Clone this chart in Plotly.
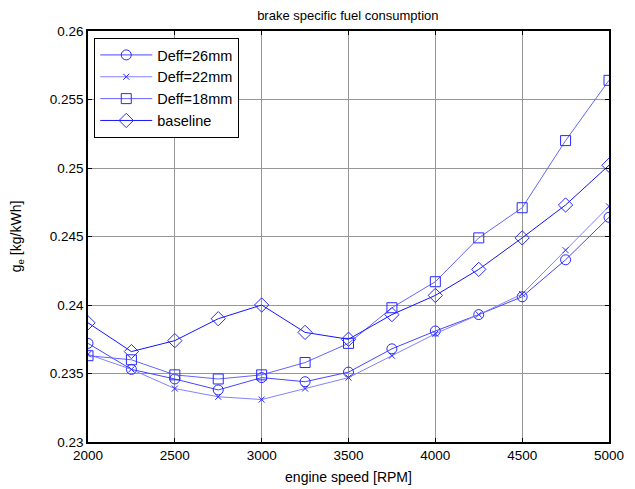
import plotly.graph_objects as go

rpm = [2000, 2250, 2500, 2750, 3000, 3250, 3500, 3750, 4000, 4250, 4500, 4750, 5000]
deff26 = [0.2372, 0.2353, 0.2346, 0.2338, 0.2347, 0.2344, 0.2351, 0.2368, 0.2381, 0.2393, 0.2406, 0.2433, 0.2464]
deff22 = [0.2364, 0.2353, 0.2339, 0.2333, 0.2331, 0.2339, 0.2347, 0.2363, 0.2379, 0.2393, 0.2408, 0.2440, 0.2472]
deff18 = [0.2363, 0.2360, 0.2349, 0.2346, 0.2349, 0.2358, 0.2372, 0.2398, 0.2417, 0.2449, 0.2471, 0.2520, 0.2564]
baseline = [0.2387, 0.2366, 0.2374, 0.2390, 0.2400, 0.2380, 0.2375, 0.2393, 0.2407, 0.2426, 0.2449, 0.2473, 0.2502]

x_ticks = [2000, 2500, 3000, 3500, 4000, 4500, 5000]
y_ticks = [0.23, 0.235, 0.24, 0.245, 0.25, 0.255, 0.26]
y_ticktext = ["0.23", "0.235", "0.24", "0.245", "0.25", "0.255", "0.26"]

series = [
    ("Deff=26mm", deff26, "circle-open", "rgb(70,70,255)", 10),
    ("Deff=22mm", deff22, "x-thin-open", "rgb(130,130,255)", 6),
    ("Deff=18mm", deff18, "square-open", "rgb(100,100,255)", 10),
    ("baseline", baseline, "diamond-open", "rgb(20,20,255)", 11),
]

fig = go.Figure()
for name, vals, sym, col, sz in series:
    fig.add_trace(go.Scatter(
        x=rpm, y=vals, name=name, mode="lines+markers",
        line=dict(color=col, width=1),
        marker=dict(symbol=sym, size=sz, color="rgb(40,40,255)",
                    line=dict(color="rgb(40,40,255)", width=1)),
    ))

axis_common = dict(
    showline=True, linecolor="black", linewidth=1.5, mirror="ticks",
    ticks="inside", ticklen=4, tickcolor="black", automargin=False,
    showgrid=True, gridcolor="rgb(150,150,150)", gridwidth=1,
    zeroline=False, tickfont=dict(family="Liberation Sans, Arial", size=13.5, color="black"),
)

fig.update_layout(
    width=627, height=481,
    margin=dict(l=80, r=26, t=23, b=47),
    paper_bgcolor="white", plot_bgcolor="white",
    font=dict(family="Liberation Sans, Arial", color="black"),
    title=dict(text="brake specific fuel consumption", x=0.542, xanchor="center",
               y=0.984, yanchor="middle", font=dict(size=13)),
    xaxis=dict(range=[2000, 5000], tickvals=x_ticks,
               title=dict(text="engine speed [RPM]", font=dict(size=14), standoff=10),
               **axis_common),
    yaxis=dict(range=[0.23, 0.26], tickvals=y_ticks, ticktext=y_ticktext,
               title=dict(text="g<sub>e</sub> [kg/kWh]", font=dict(size=14), standoff=25),
               **axis_common),
    legend=dict(x=0.012, y=0.983, xanchor="left", yanchor="top",
                bgcolor="white", bordercolor="black", borderwidth=1,
                font=dict(size=14.5), tracegroupgap=0, itemwidth=52),
    showlegend=True,
)

fig.write_html("out.html")
